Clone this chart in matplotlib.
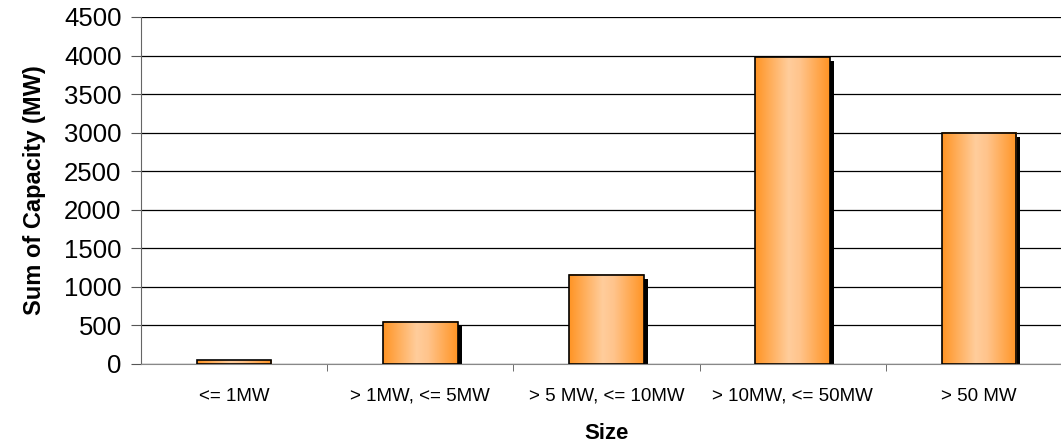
import matplotlib.pyplot as plt
import numpy as np
from matplotlib.colors import LinearSegmentedColormap
from matplotlib.transforms import offset_copy

plt.rcParams['font.family'] = ['Liberation Sans', 'DejaVu Sans']

sizes = ["<= 1MW", "> 1MW, <= 5MW", "> 5 MW, <= 10MW", "> 10MW, <= 50MW", "> 50 MW"]
capacity = [50, 550, 1160, 3980, 3000]

bar_width = 0.4
shade = LinearSegmentedColormap.from_list(
    "shade", [(0.0, "#ff9424"), (0.45, "#ffcd9c"), (0.6, "#ffc48c"), (1.0, "#ff9424")])

fig = plt.figure(figsize=(10.61, 4.46), dpi=100)
ax = fig.add_axes([0.1329, 0.1839, 0.8775, 0.778])

x = np.arange(len(sizes))

# black drop shadow, shifted a few pixels right and down
shadow_tf = offset_copy(ax.transData, fig=fig, x=4, y=-4, units="dots")
ax.bar(x, capacity, width=bar_width, color="black", transform=shadow_tf, zorder=2)

# gradient fill inside each bar, then the outline on top
grad = np.linspace(0, 1, 256).reshape(1, -1)
for xi, val in zip(x, capacity):
    ax.imshow(grad, cmap=shade, aspect="auto", zorder=3,
              extent=(xi - bar_width / 2, xi + bar_width / 2, 0, val))
ax.bar(x, capacity, width=bar_width, facecolor="none", edgecolor="black",
       linewidth=1.2, zorder=4)

ax.set_xlim(-0.5, len(sizes) - 0.5)
ax.set_ylim(0, 4500)
ax.set_yticks(np.arange(0, 4501, 500))
ax.yaxis.grid(True, color="black", linewidth=0.9)
ax.set_axisbelow(True)

ax.set_xticks(x)
ax.set_xticklabels(sizes, fontsize=13.5)
ax.set_xticks(np.arange(0.5, len(sizes) - 0.5, 1), minor=True)
ax.tick_params(axis="x", which="major", length=0, pad=17)
ax.tick_params(axis="x", which="minor", length=5, color="#555555")
ax.tick_params(axis="y", labelsize=18.5, length=7, color="#555555", pad=7)

for side in ("top", "right"):
    ax.spines[side].set_visible(False)
ax.spines["left"].set_color("#666666")
ax.spines["bottom"].set_color("#888888")

ax.set_xlabel("Size", fontsize=16, fontweight="bold", labelpad=13)
ax.set_ylabel("Sum of Capacity (MW)", fontsize=17, fontweight="bold", labelpad=13)

fig.savefig("out.png", dpi=100)
